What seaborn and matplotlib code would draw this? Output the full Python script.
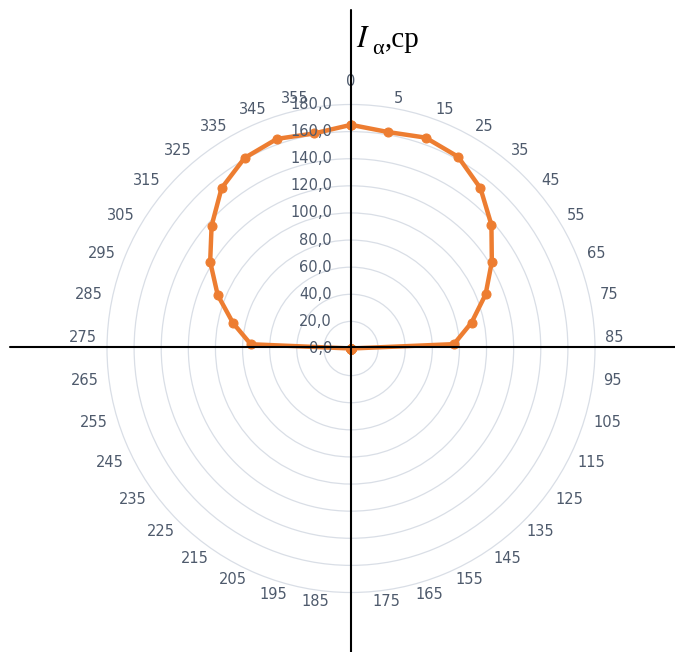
import numpy as np
import matplotlib
matplotlib.use('Agg')
import matplotlib.pyplot as plt
import seaborn as sns
import pandas as pd
from matplotlib.lines import Line2D
from matplotlib.transforms import ScaledTranslation

# ---- data ----
categories = ['0', '5', '15', '25', '35', '45', '55', '65', '75', '85',
              '95', '105', '115', '125', '135', '145', '155', '165', '175',
              '185', '195', '205', '215', '225', '235', '245', '255', '265',
              '275', '285', '295', '305', '315', '325', '335', '345', '355']
intensity = [165, 162, 165, 162, 152, 138, 122, 107, 91, 76,
             0, 0, 0, 0, 0, 0, 0, 0, 0,
             0, 0, 0, 0, 0, 0, 0, 0, 0,
             74, 89, 106, 122, 137, 152, 161, 164, 161]
r_ticks = [0, 20, 40, 60, 80, 100, 120, 140, 160, 180]
r_tick_labels = ['0,0', '20,0', '40,0', '60,0', '80,0', '100,0', '120,0',
                 '140,0', '160,0', '180,0']

# ---- style ----
sns.set_style('white')
plt.rcParams['font.family'] = ['DejaVu Sans']
plt.rcParams['mathtext.fontset'] = 'stix'

TXT = '#4E5A6C'
GRID = '#D9DEE6'
ORANGE = '#ED7D31'

W, H = 675, 652
fig = plt.figure(figsize=(W / 100, H / 100), dpi=100)
fig.patch.set_facecolor('white')

RMAX = 182.0
cx, cy = 351, 348.5
R = 244 * RMAX / 180
ax = fig.add_axes([(cx - R) / W, (H - cy - R) / H, 2 * R / W, 2 * R / H],
                  projection='polar')
ax.set_theta_zero_location('N')
ax.set_theta_direction(-1)

n = len(categories)
theta = np.arange(n) * 2 * np.pi / n
df = pd.DataFrame({'theta': np.append(theta, 2 * np.pi),
                   'value': intensity + intensity[:1]})

sns.lineplot(data=df, x='theta', y='value', sort=False, estimator=None,
             ax=ax, color=ORANGE, lw=3.2, marker='o', markersize=6.5,
             markeredgecolor=ORANGE, markerfacecolor=ORANGE, zorder=3)

ax.set_ylim(0, RMAX)
ax.set_yticks(r_ticks)
ax.set_yticklabels([])
ax.yaxis.grid(True, color=GRID, lw=0.9)
ax.xaxis.grid(False)
ax.spines['polar'].set_visible(False)
ax.set_xlabel('')
ax.set_ylabel('')

# category labels, Excel-style: inner edge anchored on a circle
ax.set_xticks(theta)
ax.set_xticklabels([])
ax.tick_params(axis='x', length=0)
r_lab = 180 * 254 / 244
for th, lab in zip(theta, categories):
    s = np.sin(th)
    if abs(s) < 1e-9:
        ha, va = 'center', 'bottom'
        rr = 180 * 260 / 244
    else:
        ha = 'left' if s > 0 else 'right'
        va = 'center'
        rr = r_lab
    ax.text(th, rr, lab, ha=ha, va=va, color=TXT, fontsize=10.5,
            clip_on=False)

off = ScaledTranslation(-19 / 100, 0, fig.dpi_scale_trans)
for rv, lab in zip(r_ticks, r_tick_labels):
    ax.text(0, rv, lab, transform=ax.transData + off, ha='right',
            va='center', color=TXT, fontsize=10.5, zorder=4)

# cross axes lines
fig.add_artist(Line2D([cx / W, cx / W], [1 - 10 / H, 0], color='black',
                      lw=1.5, zorder=10))
fig.add_artist(Line2D([10 / W, 1], [1 - 347 / H, 1 - 347 / H], color='black',
                      lw=1.5, zorder=10))

fig.text(356 / W, 1 - 47 / H, r'$I$', fontsize=22,
         ha='left', va='baseline', color='black')
fig.text(372 / W, 1 - 54 / H, 'α', fontsize=16, family='Liberation Serif',
         ha='left', va='baseline', color='black')
fig.text(385 / W, 1 - 47 / H, ',cp', fontsize=21,
         family='Liberation Serif', ha='left', va='baseline', color='black')

fig.savefig('out.png', dpi=100, facecolor='white')
